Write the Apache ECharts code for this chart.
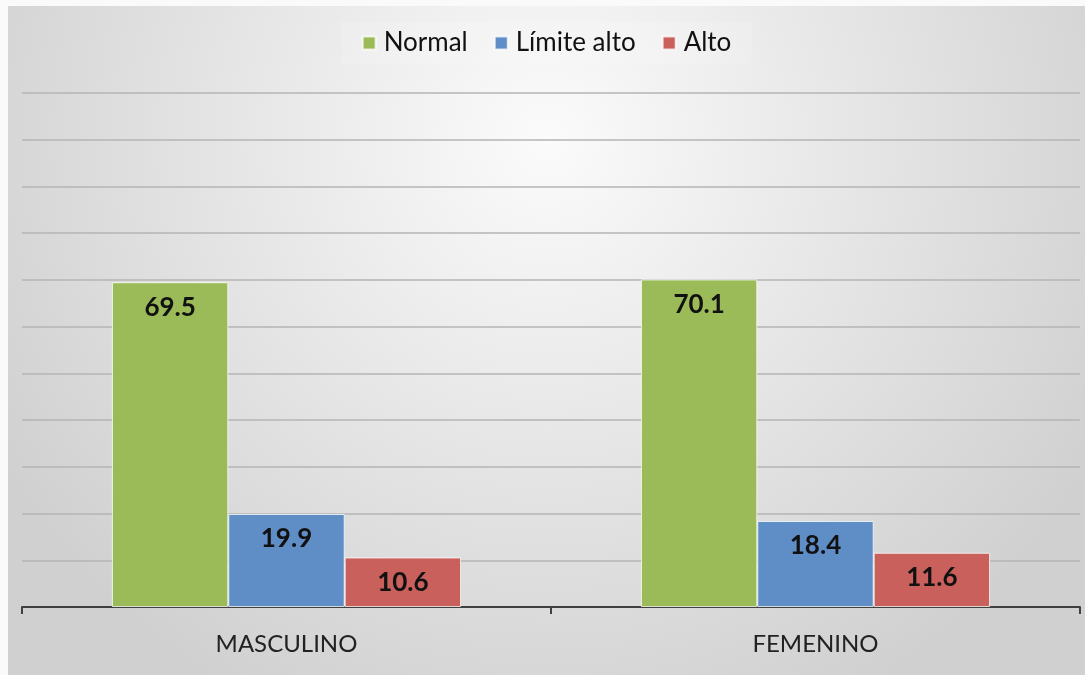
<!DOCTYPE html>
<html>
<head>
<meta charset="utf-8">
<script src="https://cdn.jsdelivr.net/npm/echarts@6/dist/echarts.min.js"></script>
<style>
html,body{margin:0;padding:0;width:1085px;height:675px;background:#fafafa;overflow:hidden;}
#chart{position:absolute;left:8px;top:6px;width:1077px;height:669px;}
</style>
</head>
<body>
<div id="chart"></div>
<script>
const categories = ['MASCULINO', 'FEMENINO'];
const seriesNames = ['Normal', 'Límite alto', 'Alto'];
const normalValues = [69.5, 70.1];
const limiteAltoValues = [19.9, 18.4];
const altoValues = [10.6, 11.6];
const colors = ['#9bbb59', '#5f8dc6', '#c9605c'];
const seriesValues = [normalValues, limiteAltoValues, altoValues];

const chart = echarts.init(document.getElementById('chart'));
const font = 'Lato, "Open Sans", sans-serif';
chart.setOption({
  animation: false,
  backgroundColor: {
    type: 'radial', x: 0.5, y: 0.2, r: 0.95,
    colorStops: [{offset: 0, color: '#fbfbfb'}, {offset: 1, color: '#d0d0d0'}]
  },
  textStyle: {fontFamily: font},
  legend: {
    top: 16,
    left: 'center',
    itemWidth: 13,
    itemHeight: 13,
    itemGap: 26,
    icon: 'rect',
    backgroundColor: 'rgba(255,255,255,0.15)',
    padding: [8, 20],
    textStyle: {fontSize: 26, color: '#111', fontFamily: font, padding: [0, 0, 0, 3]}
  },
  grid: {left: 14, right: 5, top: 87, bottom: 68},
  xAxis: {
    type: 'category',
    data: categories,
    axisLine: {lineStyle: {color: '#404040', width: 2}},
    axisTick: {show: true, length: 7, lineStyle: {color: '#404040', width: 2}},
    axisLabel: {fontSize: 24, color: '#222', margin: 25, fontFamily: font}
  },
  yAxis: {
    type: 'value',
    min: 0, max: 110, interval: 10,
    axisLabel: {show: false},
    axisLine: {show: false},
    axisTick: {show: false},
    splitLine: {lineStyle: {color: '#b4b4b4', width: 1.5}}
  },
  series: seriesNames.map((name, i) => ({
    name: name,
    type: 'bar',
    data: seriesValues[i],
    barGap: '0%',
    barCategoryGap: '34%',
    itemStyle: {color: colors[i], borderColor: 'rgba(255,255,255,0.75)', borderWidth: 1},
    label: {
      show: true,
      position: 'insideTop',
      distance: 12,
      fontSize: 26,
      fontWeight: 'bold',
      color: '#111',
      fontFamily: font
    }
  }))
});
</script>
</body>
</html>
